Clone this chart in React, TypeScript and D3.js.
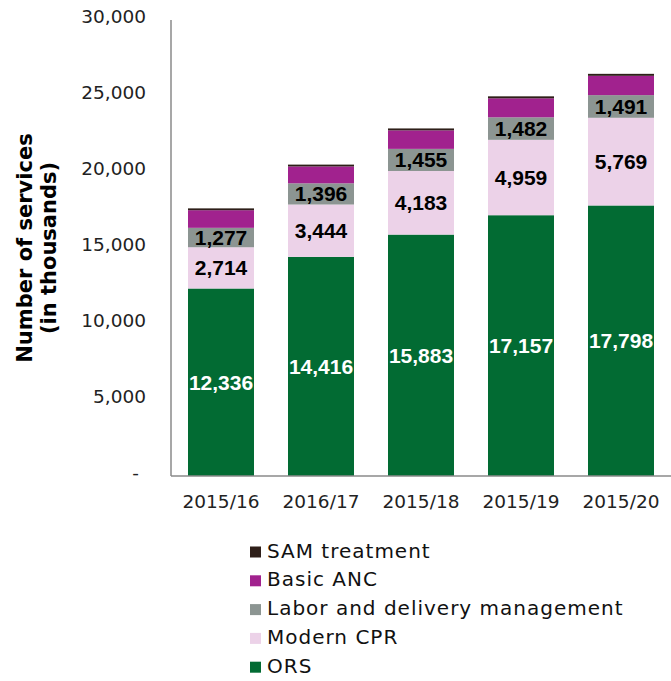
import React from "react";
import * as d3 from "d3";

const years = ["2015/16", "2016/17", "2015/18", "2015/19", "2015/20"];
const ors = [12336, 14416, 15883, 17157, 17798];
const modernCpr = [2714, 3444, 4183, 4959, 5769];
const laborDelivery = [1277, 1396, 1455, 1482, 1491];
const basicAnc = [1160, 1110, 1220, 1250, 1270];
const samTreatment = [120, 120, 125, 130, 130];

const seriesNames = ["ORS", "Modern CPR", "Labor and delivery management", "Basic ANC", "SAM treatment"];
const seriesValues = [ors, modernCpr, laborDelivery, basicAnc, samTreatment];
const seriesColors = ["#026b33", "#ecd2e8", "#8c9592", "#a1228e", "#2e1f19"];
const labelColors = ["#ffffff", "#000000", "#000000", null, null];
const yTicks = [0, 5000, 10000, 15000, 20000, 25000, 30000];

const W = 671;
const H = 681;
const M = { left: 171, right: 0, top: 20, bottom: 205 };

export default function App() {
  const rows = years.map((y, i) => {
    const r: any = { year: y };
    seriesNames.forEach((n, k) => (r[n] = seriesValues[k][i]));
    return r;
  });
  const stacked = d3.stack().keys(seriesNames)(rows);

  const x = d3.scaleBand().domain(years).range([M.left, W - M.right]).paddingInner(0.34).paddingOuter(0.17);
  const y = d3.scaleLinear().domain([0, 30000]).range([H - M.bottom, M.top]);
  const fmt = d3.format(",");
  const baseY = y(0);

  const legendItems = seriesNames.map((n, k) => ({ n, c: seriesColors[k] })).reverse();

  return (
    <>
      <style>{`body{margin:0}`}</style>
      <svg width={W} height={H} style={{ display: "block", background: "#fff" }}>
        {/* bars */}
        {stacked.map((s, k) => (
          <g key={s.key} fill={seriesColors[k]}>
            {s.map((d, i) => (
              <rect
                key={i}
                x={x(years[i])}
                width={x.bandwidth()}
                y={y(d[1])}
                height={y(d[0]) - y(d[1])}
              />
            ))}
          </g>
        ))}
        {/* axes */}
        <line x1={M.left} x2={M.left} y1={M.top} y2={baseY} stroke="#8a8a8a" strokeWidth={1.5} />
        <line x1={M.left} x2={W} y1={baseY} y2={baseY} stroke="#8a8a8a" strokeWidth={1.5} />
        {/* y ticks */}
        {yTicks.map((t) => (
          <text
            key={t}
            x={t === 0 ? 139 : 146}
            y={y(t) - 3.5}
            dy="0.35em"
            textAnchor="end"
            fontFamily="DejaVu Sans"
            fontSize={18.5}
            fill="#222"
          >
            {t === 0 ? "-" : fmt(t)}
          </text>
        ))}
        {/* x ticks */}
        {years.map((yr) => (
          <text
            key={yr}
            x={(x(yr) as number) + x.bandwidth() / 2}
            y={baseY + 32}
            textAnchor="middle"
            fontFamily="DejaVu Sans"
            fontSize={18.5}
            fill="#222"
          >
            {yr}
          </text>
        ))}
        {/* data labels */}
        {stacked.map((s, k) =>
          labelColors[k]
            ? s.map((d, i) => (
                <text
                  key={`${k}-${i}`}
                  x={(x(years[i]) as number) + x.bandwidth() / 2}
                  y={(y(d[0]) + y(d[1])) / 2}
                  dy="0.36em"
                  textAnchor="middle"
                  fontFamily="Liberation Sans, Arial"
                  fontWeight="bold"
                  fontSize={21}
                  fill={labelColors[k] as string}
                >
                  {fmt(seriesValues[k][i])}
                </text>
              ))
            : null
        )}
        {/* y title */}
        <g transform={`translate(37, ${(M.top + baseY) / 2}) rotate(-90)`}>
          <text x={0} y={-12} dy="0.35em" textAnchor="middle" fontFamily="DejaVu Sans" fontWeight="bold" fontSize={21} fill="#000">
            Number of services
          </text>
          <text x={0} y={12} dy="0.35em" textAnchor="middle" fontFamily="DejaVu Sans" fontWeight="bold" fontSize={21} fill="#000">
            (in thousands)
          </text>
        </g>
        {/* legend */}
        {legendItems.map((it, j) => (
          <g key={it.n} transform={`translate(250, ${552 + j * 28.8})`}>
            <rect x={0} y={-5.5} width={11} height={11} fill={it.c} />
            <text x={17} y={5.5} fontFamily="DejaVu Sans" fontSize={20} letterSpacing={1} fill="#111">
              {it.n}
            </text>
          </g>
        ))}
      </svg>
    </>
  );
}
